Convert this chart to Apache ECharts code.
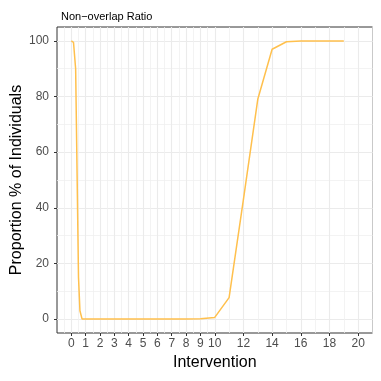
<!DOCTYPE html>
<html lang="en">
<head>
  <meta charset="utf-8">
  <title>Non-overlap Ratio</title>
  <script src="https://cdn.jsdelivr.net/npm/echarts@6/dist/echarts.min.js"></script>
  <style>
    html, body, #chart { width: 100%; height: 100%; margin: 0; padding: 0; overflow: hidden; background: #fff; }
  </style>
</head>
<body>
  <div id="chart"></div>
  <script>
    // data
    var interventions = [0, 0.15, 0.3, 0.5, 0.6, 0.75, 1, 2, 3, 4, 5, 6, 7, 8, 9, 10, 11, 12, 13, 14, 15, 16, 17, 18, 19];
    var proportion   = [100, 99.5, 90, 15, 3, 0, 0, 0, 0, 0, 0, 0, 0, 0, 0.1, 0.6, 7.7, 43, 79, 97, 99.7, 100, 100, 100, 100];

    var xTicks = [0, 1, 2, 3, 4, 5, 6, 7, 8, 9, 10, 12, 14, 16, 18, 20];
    var xMinor = [-0.5, 0.5, 1.5, 2.5, 3.5, 4.5, 5.5, 6.5, 7.5, 8.5, 9.5, 11, 13, 15, 17, 19, 21];
    var yTicks = [0, 20, 40, 60, 80, 100];
    var yMinor = [10, 30, 50, 70, 90];

    var font = 'Liberation Sans';
    var chart = echarts.init(document.getElementById('chart'));

    var option = {
      animation: false,
      title: {
        text: 'Non\u2212overlap Ratio',
        left: 56, top: 6,
        textStyle: { fontFamily: font, fontSize: 11, fontWeight: 'normal', color: '#000' }
      },
      grid: {
        left: 57, right: 8.5, top: 27, bottom: 48,
        outerBoundsMode: 'none',
        show: true, borderColor: '#333', borderWidth: 1, backgroundColor: 'transparent'
      },
      xAxis: [
        {
          type: 'value', min: -1, max: 21,
          name: 'Intervention', nameLocation: 'middle', nameGap: 21,
          nameTextStyle: { fontFamily: font, fontSize: 16, color: '#000' },
          axisLine: { show: false, onZero: false },
          axisTick: { show: true, length: 3, customValues: xTicks, lineStyle: { color: '#333' } },
          axisLabel: { customValues: xTicks, margin: 5, fontFamily: font, fontSize: 12, color: '#4d4d4d' },
          splitLine: { show: true, lineStyle: { color: '#ebebeb', width: 1.1 } }
        },
        {
          type: 'value', min: -1, max: 21, position: 'bottom',
          axisLine: { show: false, onZero: false },
          axisTick: { show: false, customValues: xMinor },
          axisLabel: { show: false, customValues: xMinor },
          splitLine: { show: true, lineStyle: { color: '#f0f0f0', width: 0.8 } }
        }
      ],
      yAxis: [
        {
          type: 'value', min: -5, max: 105,
          name: 'Proportion % of Individuals', nameLocation: 'middle', nameGap: 32,
          nameMoveOverlap: false,
          nameTextStyle: { fontFamily: font, fontSize: 16, color: '#000' },
          axisLine: { show: false, onZero: false },
          axisTick: { show: true, length: 3, customValues: yTicks, lineStyle: { color: '#333' } },
          axisLabel: { customValues: yTicks, margin: 8, fontFamily: font, fontSize: 12, color: '#4d4d4d' },
          splitLine: { show: true, lineStyle: { color: '#ebebeb', width: 1.1 } }
        },
        {
          type: 'value', min: -5, max: 105, position: 'left',
          axisLine: { show: false, onZero: false },
          axisTick: { show: false, customValues: yMinor },
          axisLabel: { show: false, customValues: yMinor },
          splitLine: { show: true, lineStyle: { color: '#f0f0f0', width: 0.8 } }
        }
      ],
      series: [
        {
          type: 'line',
          xAxisIndex: 0, yAxisIndex: 0,
          data: interventions.map(function (x, i) { return [x, proportion[i]]; }),
          showSymbol: false,
          lineStyle: { color: '#ffc04d', width: 1.5 },
          itemStyle: { color: '#ffc04d' },
          z: 10
        }
      ]
    };
    chart.setOption(option);
  </script>
</body>
</html>
